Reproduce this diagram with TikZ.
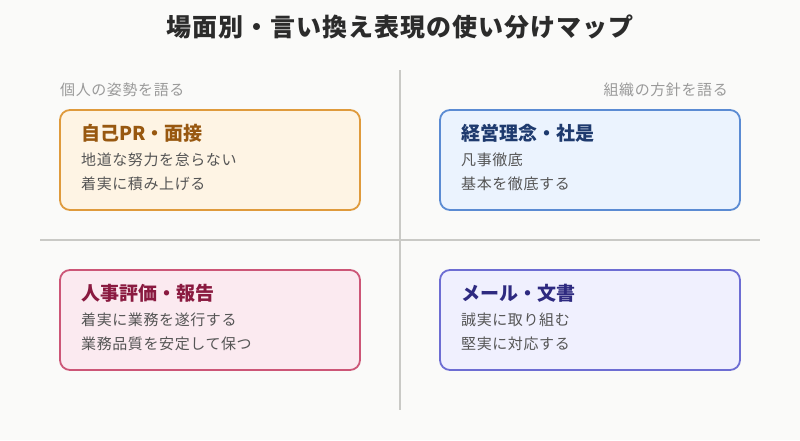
\documentclass[tikz,border=0pt]{standalone}
\usepackage{fontspec}
\setmainfont{Noto Sans CJK JP}
\definecolor{bgcol}{HTML}{FAFAF9}
\definecolor{axiscol}{HTML}{C9C9C6}
\definecolor{headcol}{HTML}{2B2B2B}
\definecolor{sidecol}{HTML}{9A9A9A}
\definecolor{bodycol}{HTML}{555555}
\definecolor{orgline}{HTML}{DF9A3C}
\definecolor{orgfill}{HTML}{FEF4E4}
\definecolor{orgtext}{HTML}{985810}
\definecolor{bluline}{HTML}{5B8BD3}
\definecolor{blufill}{HTML}{EBF3FE}
\definecolor{blutext}{HTML}{1E3A6E}
\definecolor{redline}{HTML}{CC5677}
\definecolor{redfill}{HTML}{FBEAF0}
\definecolor{redtext}{HTML}{8A1A40}
\definecolor{violine}{HTML}{6D6DD3}
\definecolor{viofill}{HTML}{F0F0FE}
\definecolor{viotext}{HTML}{2E2A80}
\tikzset{
	quad/.style={draw=#1line, fill=#1fill, line width=1.8pt, rounded corners=10pt, minimum width=300pt, minimum height=100pt, inner sep=0pt},
	quadhead/.style={anchor=west, inner sep=0pt, text=#1text, font=\fontsize{19}{22}\selectfont\bfseries},
	quadline/.style={anchor=west, inner sep=0pt, text=bodycol, font=\fontsize{15}{18}\selectfont\addfontfeature{LetterSpace=4}},
	sidelabel/.style={inner sep=0pt, text=sidecol, font=\fontsize{15}{18}\selectfont\addfontfeature{LetterSpace=4}}
}
\begin{document}
\begin{tikzpicture}[x=1pt,y=-1pt]
	\fill[bgcol] (0,0) rectangle (800,440);
	\useasboundingbox (0,0) rectangle (800,440);
	\node[text=headcol, font=\fontsize{25}{29}\selectfont\bfseries\addfontfeature{LetterSpace=4}] (maptitle) at (400,27) {場面別・言い換え表現の使い分けマップ};
	% axes
	\coordinate (vtop) at (400,70);
	\coordinate (vbot) at (400,410);
	\coordinate (hleft) at (40,240);
	\coordinate (hright) at (760,240);
	\draw[axiscol, line width=1.5pt] (vtop) -- (vbot);
	\draw[axiscol, line width=1.5pt] (hleft) -- (hright);
	\node[sidelabel, anchor=west] (personal) at (60,90) {個人の姿勢を語る};
	\node[sidelabel, anchor=east] (company) at (728,90) {組織の方針を語る};
	% quadrants
	\node[quad=org] (selfpr) at (210,160) {};
	\node[quadhead=org] (selfprT) at (81,133) {自己PR・面接};
	\node[quadline] (selfprA) at (81,160) {地道な努力を怠らない};
	\node[quadline] (selfprB) at (81,184) {着実に積み上げる};
	\node[quad=blu] (policy) at (590,160) {};
	\node[quadhead=blu] (policyT) at (461,133) {経営理念・社是};
	\node[quadline] (policyA) at (461,160) {凡事徹底};
	\node[quadline] (policyB) at (461,184) {基本を徹底する};
	\node[quad=red] (review) at (210,320) {};
	\node[quadhead=red] (reviewT) at (81,293) {人事評価・報告};
	\node[quadline] (reviewA) at (81,320) {着実に業務を遂行する};
	\node[quadline] (reviewB) at (81,344) {業務品質を安定して保つ};
	\node[quad=vio] (mail) at (590,320) {};
	\node[quadhead=vio] (mailT) at (461,293) {メール・文書};
	\node[quadline] (mailA) at (461,320) {誠実に取り組む};
	\node[quadline] (mailB) at (461,344) {堅実に対応する};
\end{tikzpicture}
\end{document}
